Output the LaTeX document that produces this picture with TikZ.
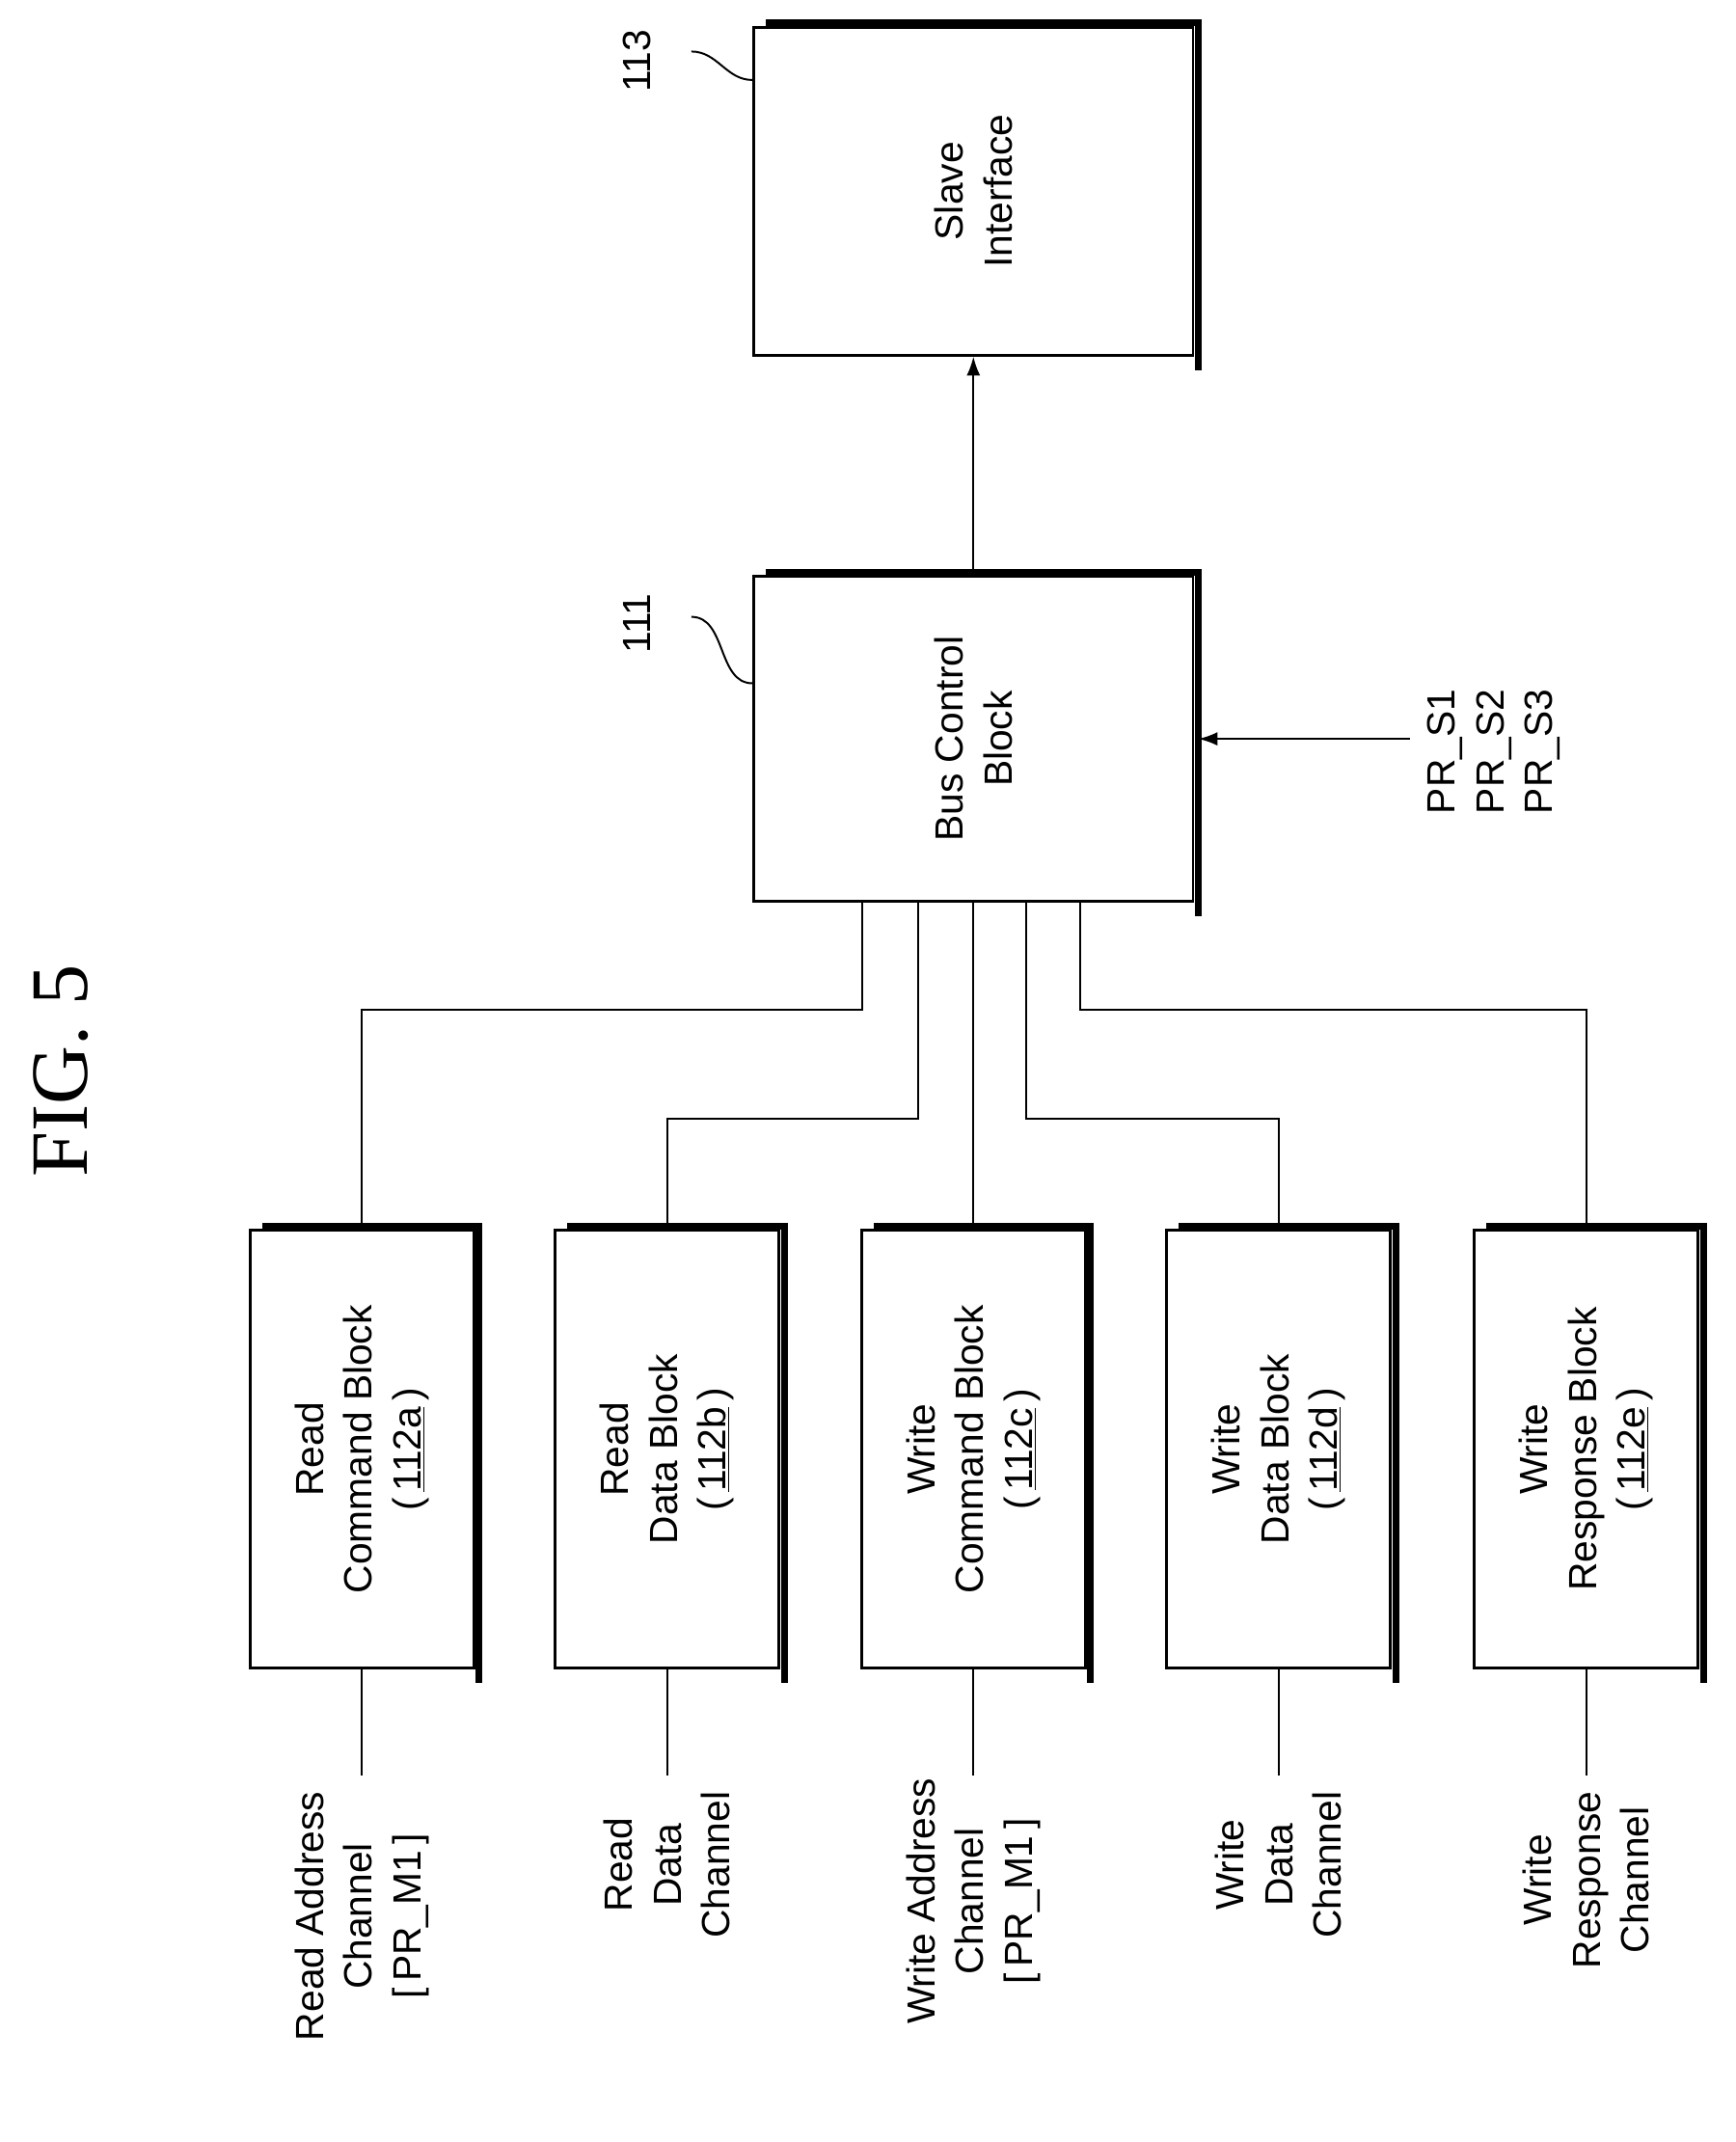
\documentclass[tikz,border=0pt]{standalone}
\usepackage{fontspec}
\setmainfont{Liberation Serif}
\setsansfont{Liberation Sans}
\usetikzlibrary{arrows.meta}
\begin{document}
\begin{tikzpicture}[
  x=1pt,
  y=-1pt,
  font=\sffamily\fontsize{29}{36}\selectfont,
  block/.style={
    draw,
    line width=2pt,
    inner sep=0pt
  },
  txt/.style={
    rotate=90,
    align=center
  },
  wire/.style={
    line width=1.4pt
  },
  shadow/.style={
    line width=5pt
  },
  >={Latex[length=14pt,width=10pt]}
  ]
  \useasboundingbox (0,0) rectangle (1280,1580);
  \node [rotate=90, font=\rmfamily\fontsize{60}{60}\selectfont] (Fig) at (45,790) {FIG. 5};

  \node [block, minimum width=324pt, minimum height=242pt] (Slave) at (718,141) {};
  \node [block, minimum width=324pt, minimum height=240pt] (Bus) at (718,545) {};
  \node [txt] at (Slave) {Slave\\Interface};
  \node [txt] at ([xshift=0pt]Bus) {Bus Control\\Block};

  \foreach \name/\cx/\la/\lb/\lc/\num in {
      RCB/267/Read/Command Block/112a,
      RDB/492/Read/Data Block/112b,
      WCB/718/Write/Command Block/112c,
      WDB/943/Write/Data Block/112d,
      WRB/1170/Write/Response Block/112e} {
    \node [block, minimum width=165pt, minimum height=323pt] (\name) at (\cx,1069) {};
    \node [txt] at (\name) {\la\\\lb\\(\,\underline{\num}\,)};
    \draw [shadow] ([xshift=10pt,yshift=2pt]\name.north west) -- ([xshift=3pt,yshift=2pt]\name.north east) -- ([xshift=3pt,yshift=-10pt]\name.south east);
    \coordinate (\name-end) at (\cx,1310);
    \draw [wire] (\name.south) -- (\name-end);
  }
  \foreach \b in {Slave, Bus}
    \draw [shadow] ([xshift=10pt,yshift=2pt]\b.north west) -- ([xshift=3pt,yshift=2pt]\b.north east) -- ([xshift=3pt,yshift=-10pt]\b.south east);

  % channel labels
  \node [txt, anchor=east] at (267,1318) {Read Address\\Channel\\{[}\,PR\_M1\,{]}};
  \node [txt, anchor=east] at (492,1318) {Read\\Data\\Channel};
  \node [txt, anchor=east] at (718,1308) {Write Address\\Channel\\{[}\,PR\_M1\,{]}};
  \node [txt, anchor=east] at (943,1318) {Write\\Data\\Channel};
  \node [txt, anchor=east] at (1170,1318) {Write\\Response\\Channel};

  % references
  \node [rotate=90] (n113) at (470,45) {113};
  \node [rotate=90] (n111) at (470,460) {111};
  \draw [wire] (510,38) to [out=0, in=180] ([yshift=-40pt]Slave.north west);
  \draw [wire] (510,455) to [out=0, in=180] ([yshift=-80pt]Bus.north west);

  % connections
  \draw [wire, ->] (Bus.north) -- (Slave.south);
  \node [rotate=90, anchor=east] (PRS1) at (1066,505) {PR\_S1};
  \node [rotate=90, anchor=east] (PRS2) at (1102,505) {PR\_S2};
  \node [rotate=90, anchor=east] (PRS3) at (1138,505) {PR\_S3};
  \coordinate (PRin) at (1040,545);
  \draw [wire, ->] (PRin) -- ([xshift=3pt]Bus.east);
  \draw [wire] ([xshift=-82pt]Bus.south) |- (267,745) -- (RCB.north);
  \draw [wire] ([xshift=-41pt]Bus.south) |- (492,825) -- (RDB.north);
  \draw [wire] (Bus.south) -- (WCB.north);
  \draw [wire] ([xshift=39pt]Bus.south) |- (943,825) -- (WDB.north);
  \draw [wire] ([xshift=79pt]Bus.south) |- (1170,745) -- (WRB.north);
\end{tikzpicture}
\end{document}
